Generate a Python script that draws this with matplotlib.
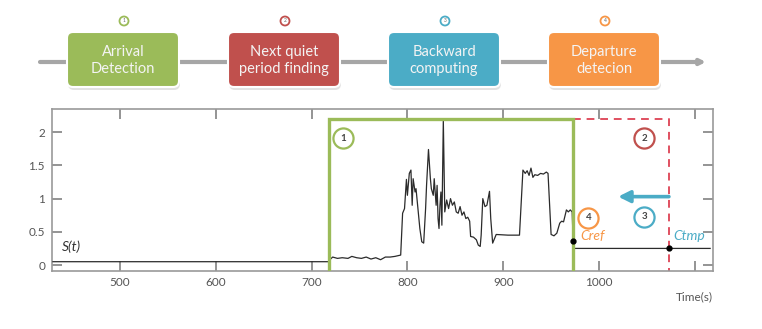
import matplotlib
matplotlib.use("Agg")
import matplotlib.pyplot as plt
from matplotlib.patches import FancyBboxPatch, Circle

plt.rcParams["font.family"] = ["Lato", "DejaVu Sans"]

# 流れ図のラベル
step_labels = ["Arrival\nDetection", "Next quiet\nperiod finding", "Backward\ncomputing", "Departure\ndetecion"]
step_numbers = ["1", "2", "3", "4"]

# S(t) 信号 (時間, 値)
time_s = [430, 718, 719, 722, 727, 732, 738, 742, 747, 752, 757, 762, 767, 772, 777, 782, 787,
          793, 795, 797, 799, 800, 802, 803.7, 805, 806, 808, 809, 811, 813, 815, 817, 819, 820,
          822, 824, 825, 827, 828, 830, 831, 832, 833, 834, 835, 836, 837.5, 839, 841, 843, 845,
          847, 849, 851, 853, 855, 857, 859, 861, 863, 865, 866, 869, 872, 874, 876, 877, 878.7,
          881, 883, 885.7, 887, 889, 892.7, 905, 917, 920.6, 923, 925, 927, 929, 931, 933, 936,
          939, 942, 945, 946.8, 950, 953, 956, 959, 961, 963, 966, 968, 970, 972, 973, 974, 1116]
s_vals = [0.05, 0.05, 0.08, 0.12, 0.10, 0.11, 0.10, 0.13, 0.11, 0.10, 0.12, 0.09, 0.11, 0.08, 0.12, 0.12, 0.13,
          0.15, 0.78, 0.85, 1.29, 1.05, 1.38, 1.43, 0.90, 1.30, 1.10, 1.15, 0.85, 0.55, 0.35, 0.33, 0.85, 1.20,
          1.74, 1.30, 1.15, 1.05, 1.30, 0.90, 1.20, 0.70, 0.55, 0.90, 1.10, 0.60, 2.18, 0.80, 0.98, 0.85, 1.00,
          0.90, 0.95, 0.80, 0.78, 0.88, 0.75, 0.80, 0.70, 0.72, 0.66, 0.43, 0.42, 0.38, 0.30, 0.28, 0.45, 1.00,
          0.88, 0.90, 1.11, 0.70, 0.33, 0.46, 0.45, 0.45, 1.43, 1.38, 1.42, 1.35, 1.46, 1.32, 1.36, 1.35,
          1.38, 1.37, 1.40, 1.38, 0.46, 0.44, 0.48, 0.63, 0.66, 0.65, 0.83, 0.80, 0.83, 0.80, 0.36, 0.25, 0.25]

# 窓の境界
t_arrival = 718
t_ref = 973
t_tmp = 1073
win_top = 2.2
c_ref = 0.36
c_tmp = 0.25
arrow_y = 1.03
arrow_end = 1020

# 丸数字の位置
mark_x = [733, 1047, 1047, 989]
mark_y = [1.91, 1.91, 0.73, 0.71]

x_ticks = [500, 600, 700, 800, 900, 1000, 1100]
x_ticklabels = ["500", "600", "700", "800", "900", "1000", ""]
y_ticks = [0, 0.5, 1, 1.5, 2]
y_ticklabels = ["0", "0.5", "1", "1.5", "2"]

green = "#9BBB59"
red = "#C0504D"
red_dash = "#E05060"
blue = "#4BACC6"
orange = "#F79646"
colors = [green, red, blue, orange]

fig = plt.figure(figsize=(7.62, 3.29), dpi=100)

# ---- メインのグラフ ----
ax = fig.add_axes([0.0682, 0.1763, 0.8675, 0.4924])
ymin = -0.09
ax.set_xlim(429, 1119)
ax.set_ylim(ymin, 2.35)

ax.plot(time_s, s_vals, color="#2b2b2b", lw=0.9, zorder=3)
ax.plot([t_ref, t_tmp], [c_ref, c_tmp], "o", color="black", ms=3.5, zorder=5)

ax.plot([t_arrival, t_arrival, t_ref, t_ref], [ymin, win_top, win_top, ymin],
        color=green, lw=2.4, zorder=4, solid_joinstyle="miter")
ax.plot([t_ref, t_tmp, t_tmp], [win_top, win_top, ymin],
        color=red_dash, lw=1.4, ls=(0, (4, 3)), zorder=2)
ax.annotate("", xy=(arrow_end, arrow_y), xytext=(t_tmp, arrow_y),
            arrowprops=dict(arrowstyle="-|>,head_width=0.35,head_length=0.7",
                            color=blue, lw=2.6, shrinkA=0, shrinkB=0), zorder=4)

for xm, ym, c, n in zip(mark_x, mark_y, colors, step_numbers):
    ax.scatter([xm], [ym], s=210, facecolor="white", edgecolor=c, linewidths=1.6, zorder=6)
    ax.text(xm, ym, n, ha="center", va="center", fontsize=7, color="#444444",
            fontweight="bold", zorder=7)

ax.text(980, 0.43, "Cref", color=orange, style="italic", fontsize=10, va="center", ha="left")
ax.text(1078, 0.43, "Ctmp", color=blue, style="italic", fontsize=10, va="center", ha="left")
ax.text(439, 0.27, "S(t)", color="#333333", style="italic", fontsize=10, va="center", ha="left")

ax.set_xticks(x_ticks)
ax.set_xticklabels(x_ticklabels)
ax.set_yticks(y_ticks)
ax.set_yticklabels(y_ticklabels)
ax.tick_params(direction="in", length=7.5, width=1.1, color="#777777", labelcolor="#555555",
               labelsize=8.5, top=True, right=True)
ax.tick_params(axis="x", pad=4)
ax.tick_params(axis="y", pad=5)
for sp in ax.spines.values():
    sp.set_color("#999999")
    sp.set_linewidth(1.2)
ax.text(1.0, -0.16, "Time(s)", transform=ax.transAxes, ha="right", va="center",
        fontsize=8.5, color="#555555")

# ---- 上の流れ図 ----
top = fig.add_axes([0, 0, 1, 1])
top.set_xlim(0, 762)
top.set_ylim(329, 0)
top.axis("off")
top.patch.set_alpha(0)

top.annotate("", xy=(706, 62), xytext=(40, 62),
             arrowprops=dict(arrowstyle="-|>,head_width=0.15,head_length=0.3",
                             color="#A6A6A6", lw=3, shrinkA=0, shrinkB=0))

box_x = [67, 228, 388, 548]
box_w = 112
box_y = 32
box_h = 55
for bx, c, lab, n in zip(box_x, colors, step_labels, step_numbers):
    shadow = FancyBboxPatch((bx + 1, box_y + 3), box_w, box_h,
                            boxstyle="round,pad=0,rounding_size=6",
                            facecolor="#D0D0D0", edgecolor="none", alpha=0.6, zorder=2)
    top.add_patch(shadow)
    box = FancyBboxPatch((bx, box_y), box_w, box_h,
                         boxstyle="round,pad=0,rounding_size=6",
                         facecolor=c, edgecolor="white", lw=1.5, zorder=3)
    top.add_patch(box)
    top.text(bx + box_w / 2, box_y + box_h / 2 + 1, lab, ha="center", va="center",
             color="#F4F4F4", fontsize=10.5, linespacing=1.3, zorder=4)
    cx = bx + box_w / 2 + 1
    top.add_patch(Circle((cx, 21), 4.5, facecolor="white", edgecolor=c, lw=1.3, zorder=4))
    top.text(cx, 21, n, ha="center", va="center", fontsize=3.5, color="#666666", zorder=5)

fig.savefig("out.png", dpi=100)
